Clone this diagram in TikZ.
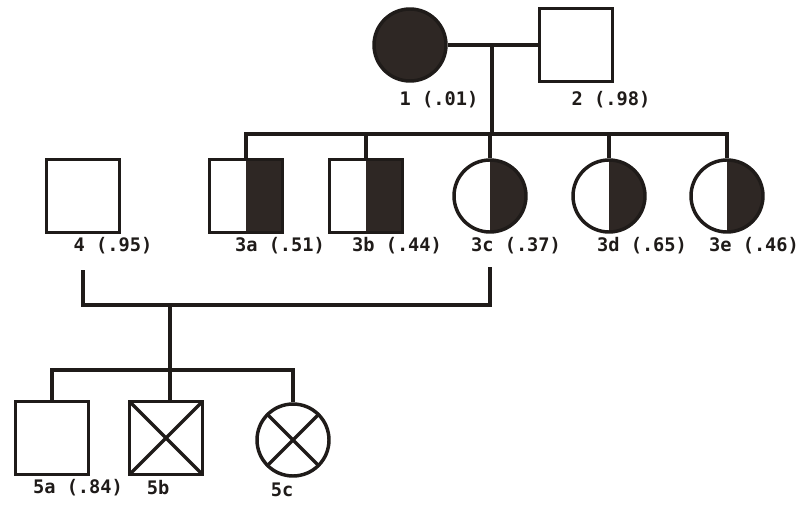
\documentclass[tikz,border=0pt]{standalone}
\usepackage{fontspec}
\usepackage{tikz}
\usetikzlibrary{positioning, calc}
\newfontfamily\pedfont{DejaVu Sans Mono}
\definecolor{pedink}{HTML}{1F1B19}
\definecolor{pedfill}{HTML}{2E2724}

\begin{document}
\begin{tikzpicture}[
    x=0.75pt, y=-0.75pt,
    male/.style={rectangle, draw=pedink, line width=2.6pt, minimum size=55pt, inner sep=0pt},
    female/.style={circle, draw=pedink, line width=2.6pt, minimum size=54pt, inner sep=0pt},
    affected/.style={fill=pedfill},
    carrier/.style={path picture={\fill[pedfill] (path picture bounding box.north) rectangle (path picture bounding box.south east);}},
    crossed/.style={path picture={\draw[pedink, line width=2.6pt] (path picture bounding box.north west) -- (path picture bounding box.south east) (path picture bounding box.north east) -- (path picture bounding box.south west);}},
    tag/.style={font=\pedfont\bfseries\fontsize{14}{16}\selectfont, inner sep=0pt, text=pedink},
    link/.style={draw=pedink, line width=2.5pt}
]
\useasboundingbox (0,0) rectangle (803,506);

% generation I
\node[female, affected] (p1) at (410,45) {};
\node[male] (p2) at (576,45) {};
\node[tag] (l1) at (439,100) {1 (.01)};
\node[tag] (l2) at (611,100) {2 (.98)};

% generation II
\node[male] (p4) at (83,196) {};
\node[male, carrier] (p3a) at (246,196) {};
\node[male, carrier] (p3b) at (366,196) {};
\node[female, carrier] (p3c) at (490,196) {};
\node[female, carrier] (p3d) at (609,196) {};
\node[female, carrier] (p3e) at (727,196) {};
\node[tag] (l4) at (113,246) {4 (.95)};
\node[tag] (l3a) at (280,246) {3a (.51)};
\node[tag] (l3b) at (397,246) {3b (.44)};
\node[tag] (l3c) at (516,246) {3c (.37)};
\node[tag] (l3d) at (642,246) {3d (.65)};
\node[tag] (l3e) at (754,246) {3e (.46)};

% generation III
\node[male] (p5a) at (52,438) {};
\node[male, crossed] (p5b) at (166,438) {};
\node[female, crossed] (p5c) at (293,440) {};
\node[tag] (l5a) at (78,488) {5a (.84)};
\node[tag] (l5b) at (158,488) {5b};
\node[tag] (l5c) at (282,490) {5c};

\coordinate (m12) at (492,45);
\coordinate (s3) at (492,134);
\coordinate (m43) at (170,305);
\coordinate (s5) at (170,370);

\draw[link] (p1) -- (p2);
\draw[link] (m12) -- (s3);
\draw[link] (p3a.north) |- (s3) -| (p3e.north);
\draw[link] (p3b.north) -- (p3b.north |- s3);
\draw[link] (p3c.north) -- (p3c.north |- s3);
\draw[link] (p3d.north) -- (p3d.north |- s3);

\draw[link] ([yshift=-27pt]p4.south) |- (m43) -| ([yshift=-25pt]p3c.south);
\draw[link] (m43) -- (s5);
\draw[link] (p5a.north) |- (s5) -| (p5c.north);
\draw[link] (s5) -- (s5 |- p5b.north);

\end{tikzpicture}
\end{document}
